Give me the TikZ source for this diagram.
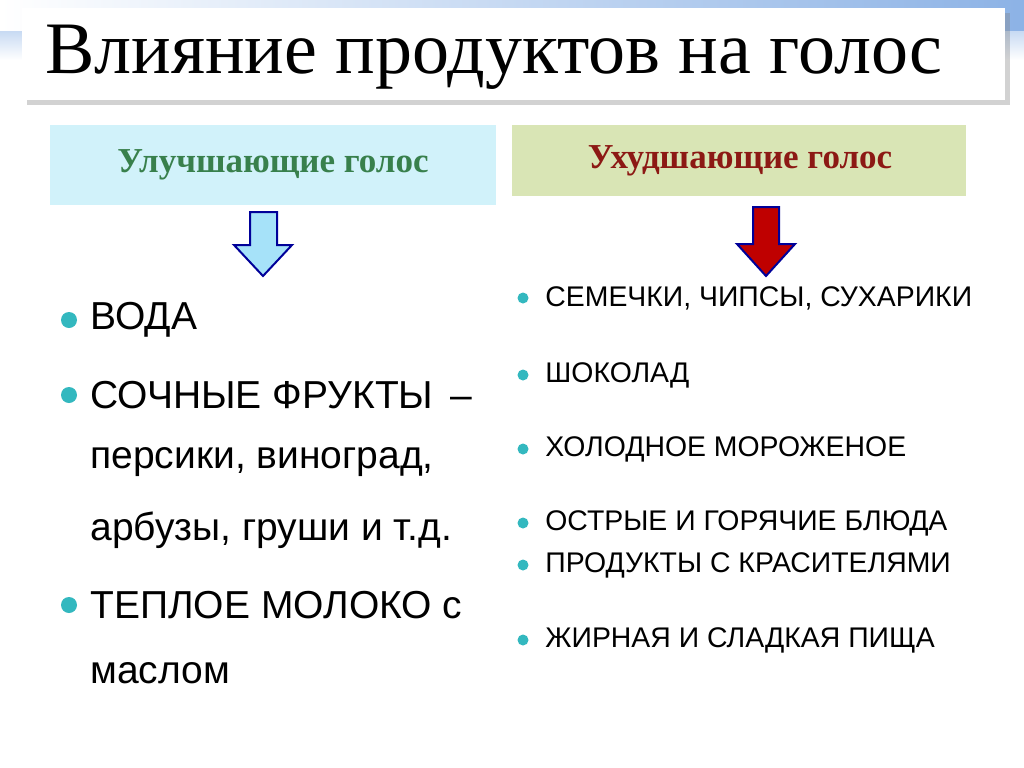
\documentclass[tikz,border=0pt]{standalone}
\usepackage{fontspec}
\setmainfont{Liberation Serif}
\newfontfamily\listfont{Liberation Sans}
\usetikzlibrary{shadows}
\definecolor{headgreen}{rgb}{0.22,0.50,0.30}
\definecolor{headred}{rgb}{0.55,0.10,0.08}
\definecolor{dotteal}{rgb}{0.20,0.72,0.75}
\definecolor{barblue}{rgb}{0.55,0.70,0.90}
\definecolor{goodfill}{rgb}{0.82,0.95,0.98}
\definecolor{badfill}{rgb}{0.85,0.90,0.71}
\tikzset{
  headbox/.style={anchor=north west, inner sep=0pt, font=\bfseries\fontsize{17.5}{20}\selectfont},
  bigitem/.style={anchor=west, inner sep=0pt, font=\listfont\fontsize{19.5}{23}\selectfont},
  smallitem/.style={anchor=west, inner sep=0pt, font=\listfont\fontsize{14.2}{17}\selectfont},
  dot/.style={circle, fill=dotteal, inner sep=0pt, minimum size=#1},
  downarrow/.style={line width=1pt}
}
\begin{document}
\begin{tikzpicture}[x=0.5pt, y=-0.5pt]
  \useasboundingbox (0,0) rectangle (1024,767);
  \fill[white] (0,0) rectangle (1024,767);
  % title band
  \shade[top color=barblue, bottom color=white] (0,0) rectangle (1024,60);
  \shade[left color=white, right color=barblue] (0,0) rectangle (1024,30);
  \fill[white, drop shadow={opacity=0.35}] (22,8) rectangle (1005,100);
  \node[anchor=west, inner sep=0pt, font=\fontsize{37}{42}\selectfont] (title) at (45,57) {Влияние продуктов на голос};
  % headers
  \fill[goodfill] (50,125) rectangle (496,205);
  \node[headbox, anchor=center, text=headgreen] (good) at (273,165) {Улучшающие голос};
  \fill[badfill] (512,125) rectangle (966,196);
  \node[headbox, anchor=center, text=headred] (bad) at (740,161) {Ухудшающие голос};
  % arrows
  \draw[downarrow, draw=blue!60!black, fill=cyan!35]
    (250,212) -- (277,212) -- (277,245) -- (292,245) -- (263,276) -- (234,245) -- (250,245) -- cycle;
  \draw[downarrow, draw=blue!60!black, fill=red!75!black]
    (753,207) -- (779,207) -- (779,244) -- (795,244) -- (766,276) -- (737,244) -- (753,244) -- cycle;
  % left list
  \foreach \y/\txt [count=\i] in {320/ВОДА, 395/СОЧНЫЕ ФРУКТЫ \,–, 605/ТЕПЛОЕ МОЛОКО с} {
    \node[dot=8pt] (ld\i) at (69,\y) {};
    \node[bigitem] (li\i) at (90,\y) {\txt};
  }
  \node[bigitem] (li4) at (90,462) {персики, виноград,};
  \node[bigitem] (li5) at (90,530) {арбузы, груши и т.д.};
  \node[bigitem] (li6) at (90,673) {маслом};
  % right list
  \foreach \y/\txt [count=\i] in {298/{СЕМЕЧКИ, ЧИПСЫ, СУХАРИКИ}, 375/ШОКОЛАД, 449/ХОЛОДНОЕ МОРОЖЕНОЕ,
      523/ОСТРЫЕ И ГОРЯЧИЕ БЛЮДА, 565/ПРОДУКТЫ С КРАСИТЕЛЯМИ, 640/ЖИРНАЯ И СЛАДКАЯ ПИЩА} {
    \node[dot=5.5pt] (rd\i) at (523,\y) {};
    \node[smallitem] (ri\i) at (545,\y) {\txt};
  }
\end{tikzpicture}
\end{document}
